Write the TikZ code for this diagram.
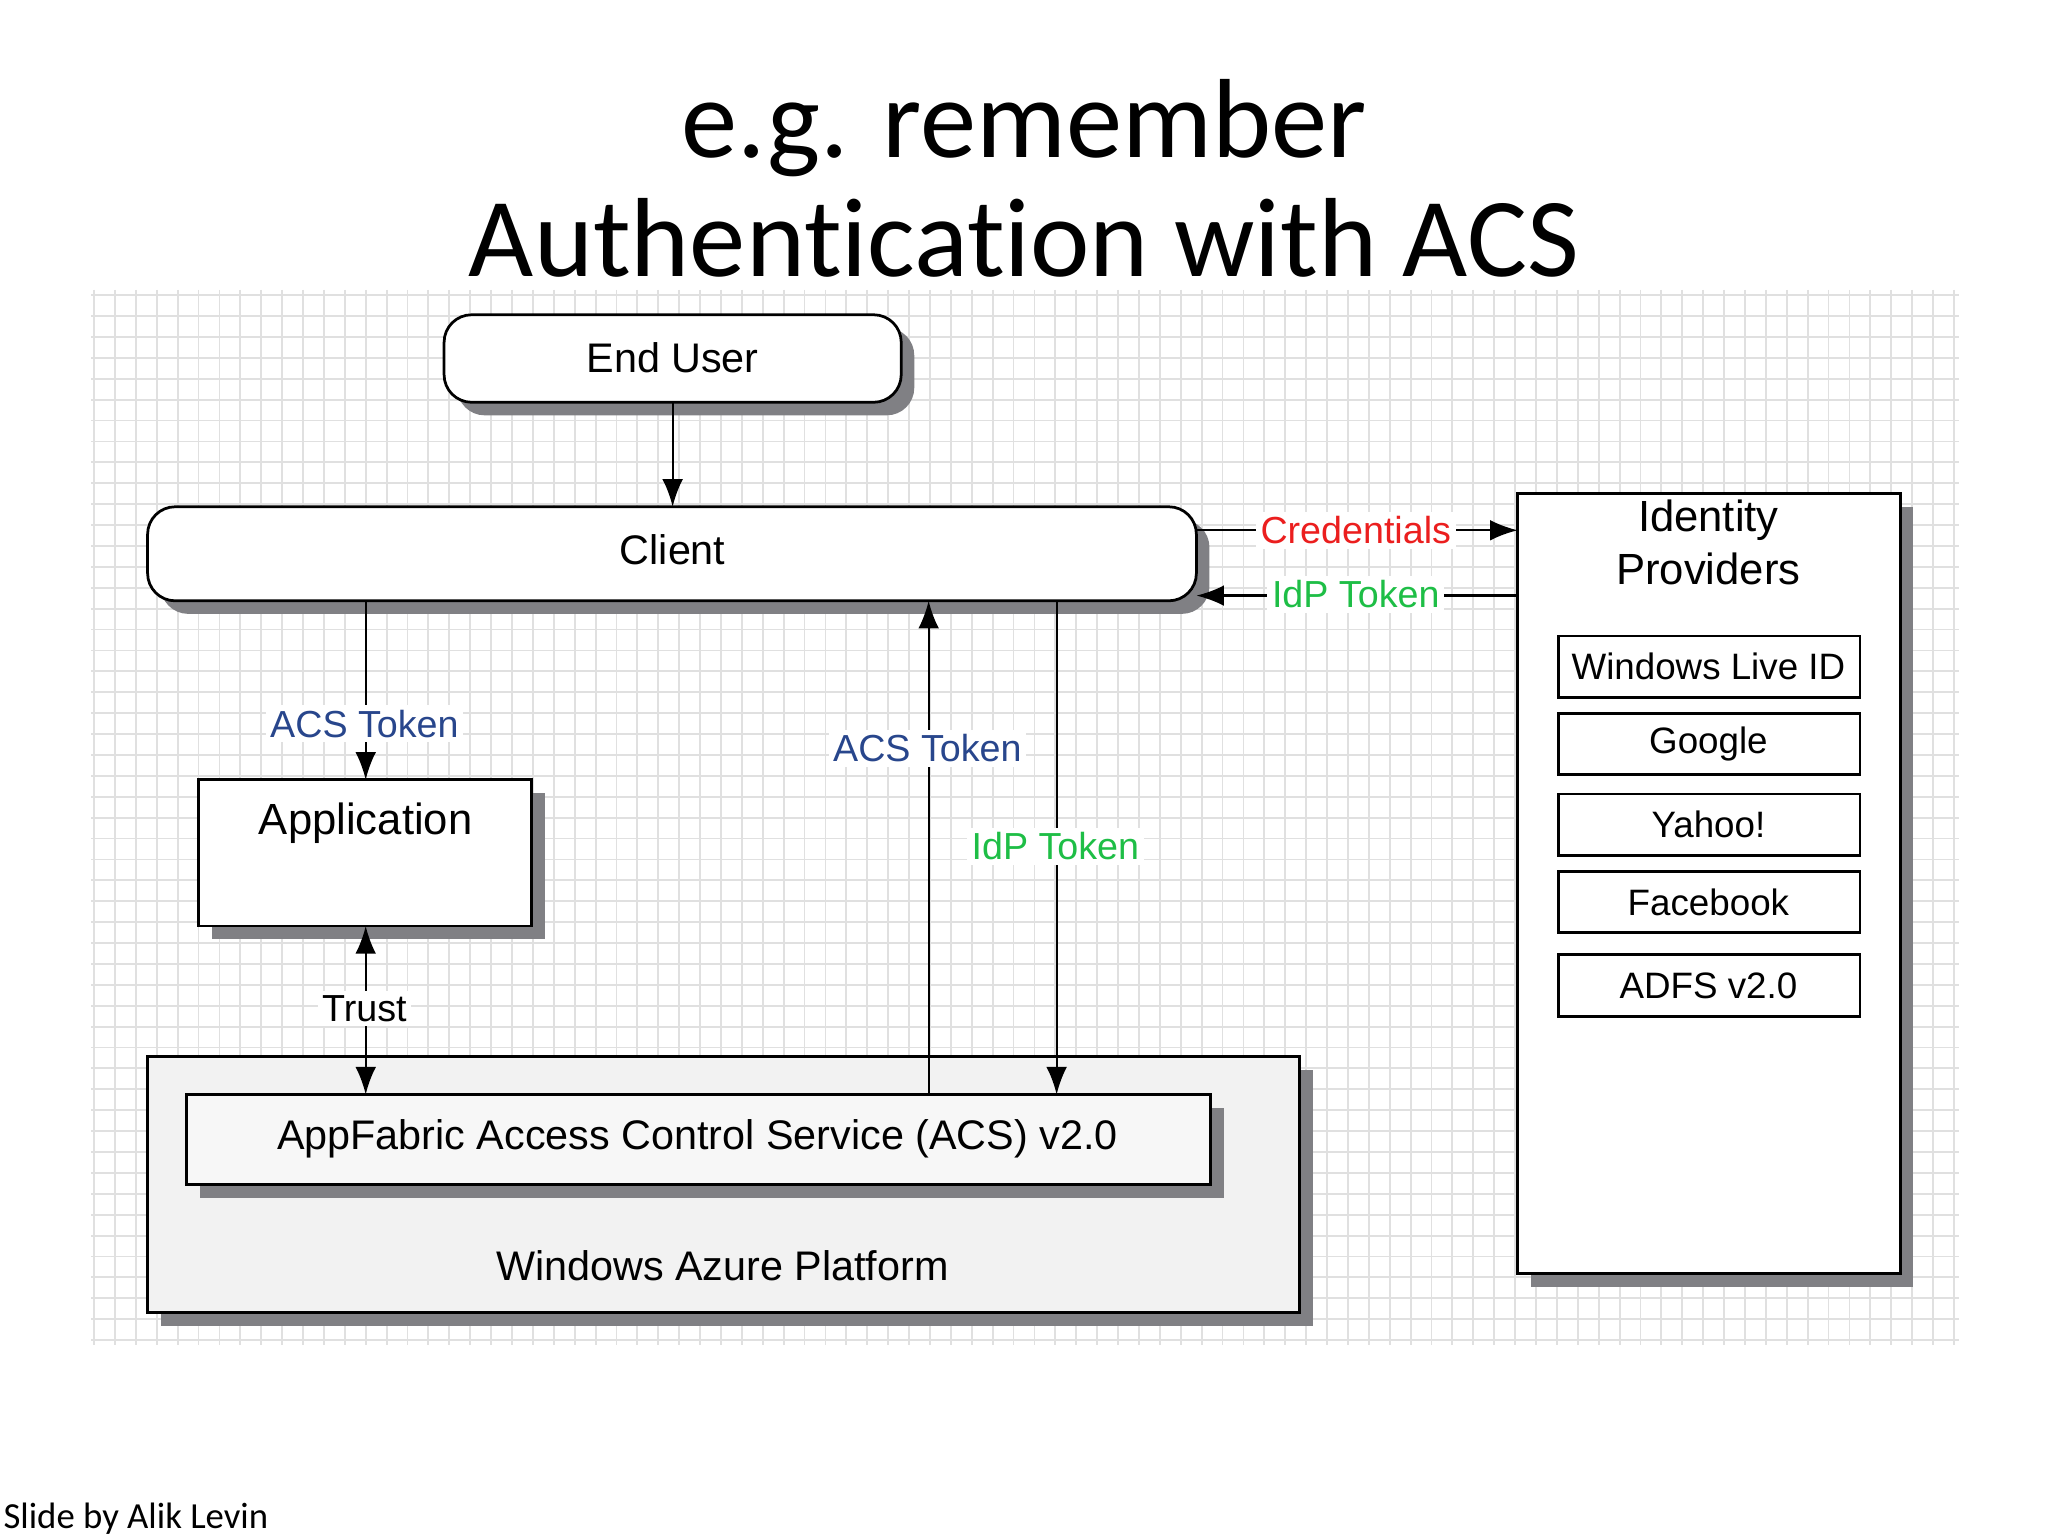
\documentclass[tikz,border=0pt]{standalone}
\usepackage{fontspec}
\setmainfont{Liberation Sans}
\newfontfamily\calib[Ligatures={NoCommon}]{Carlito}
\usetikzlibrary{arrows.meta}
\definecolor{shd}{RGB}{128,128,132}
\definecolor{lblue}{RGB}{40,70,140}
\definecolor{lgreen}{RGB}{30,190,70}
\definecolor{lred}{RGB}{235,30,30}
\tikzset{
  box/.style={draw=black, line width=0.6pt, fill=white, inner sep=0pt},
  shadow/.style={fill=shd, draw=none},
  arr/.style={-{Latex[length=6pt,width=4.5pt]}, line width=0.5pt},
  lab/.style={fill=white, inner sep=1pt, font=\fontsize{8.2}{10}\selectfont},
  txt/.style={font=\fontsize{9}{11}\selectfont},
}
\begin{document}
\begin{tikzpicture}[x=0.01cm,y=-0.01cm]
\useasboundingbox (0,0) rectangle (1568,1176);
\fill[white] (0,0) rectangle (1568,1176);
% grid
\foreach \x in {72,88,...,1500} \draw[black!12, line width=0.4pt] (\x,222) -- (\x,1030);
\foreach \y in {226,242,...,1030} \draw[black!12, line width=0.4pt] (70,\y) -- (1500,\y);
% title
\node[font=\calib\fontsize{24.5}{27}\selectfont] (t1) at (784,98) {e.g. remember};
\node[font=\calib\fontsize{24.5}{27}\selectfont] (t2) at (784,182) {Authentication with ACS};
\node[font=\calib\fontsize{8}{10}\selectfont, anchor=west, inner sep=0pt] (foot) at (2,1163) {Slide by Alik Levin};
% End user
\fill[shadow, rounded corners=6pt] (350,251) rectangle (700,318);
\draw[box, rounded corners=6pt] (340,241) rectangle (690,308);
\node[txt] (eu) at (515,274) {End User};
\coordinate (eub) at (515,308);
% Client
\fill[shadow, rounded corners=6pt] (123,398) rectangle (926,470);
\draw[box, rounded corners=6pt] (113,388) rectangle (916,460);
\node[txt] (cl) at (515,421) {Client};
\coordinate (clt) at (515,388);
\draw[arr] (eub) -- (clt);
% Identity providers
\fill[shadow] (1172,388) rectangle (1465,985);
\draw[box] (1162,378) rectangle (1455,975);
\node[align=center, font=\fontsize{9.5}{11.5}\selectfont] (idp) at (1308,415) {Identity\\Providers};
\foreach \n/\a/\b/\t in {w/487/534/Windows Live ID, g/546/593/Google, y/608/655/Yahoo!, f/667/714/Facebook, a/731/778/ADFS v2.0}{
  \draw[box] (1193,\a) rectangle (1424,\b);
  \node[font=\fontsize{8}{10}\selectfont] (\n) at (1308,{(\a+\b)/2}) {\t};
}
% credentials
\coordinate (c1) at (916,406); \coordinate (c2) at (1162,406);
\draw[arr] (c1) -- (c2);
\node[lab, text=lred] (cred) at (1038,406) {Credentials};
\coordinate (i1) at (1162,456); \coordinate (i2) at (916,456);
\draw[arr] (i1) -- (i2);
\node[lab, text=lgreen] (idt) at (1038,455) {IdP Token};
% Application
\fill[shadow] (162,607) rectangle (417,719);
\draw[box] (152,597) rectangle (407,709);
\node[font=\fontsize{9.5}{11}\selectfont] (app) at (280,630) {Application};
\coordinate (a1) at (280,460); \coordinate (a2) at (280,597);
\draw[arr] (a1) -- (a2);
\node[lab, text=lblue] (acs1) at (279,554) {ACS Token};
% Azure
\fill[shadow] (123,819) rectangle (1005,1015);
\draw[box, fill=black!5] (113,809) rectangle (995,1005);
\node[txt] (az) at (553,969) {Windows Azure Platform};
\fill[shadow] (153,848) rectangle (937,917);
\draw[box, fill=black!3] (143,838) rectangle (927,907);
\node[txt] (acs) at (534,872) {AppFabric Access Control Service (ACS) v2.0};
% trust
\coordinate (tr1) at (280,709); \coordinate (tr2) at (280,838);
\draw[{Latex[length=6pt,width=4.5pt]}-{Latex[length=6pt,width=4.5pt]}, line width=0.5pt] (tr1) -- (tr2);
\node[lab] (trust) at (279,772) {Trust};
% ACS token up
\coordinate (u1) at (711,838); \coordinate (u2) at (711,460);
\draw[arr] (u1) -- (u2);
\node[lab, text=lblue] (acs2) at (710,573) {ACS Token};
% IdP token down
\coordinate (d1) at (809,460); \coordinate (d2) at (809,838);
\draw[arr] (d1) -- (d2);
\node[lab, text=lgreen] (idt2) at (808,648) {IdP Token};
\end{tikzpicture}
\end{document}
